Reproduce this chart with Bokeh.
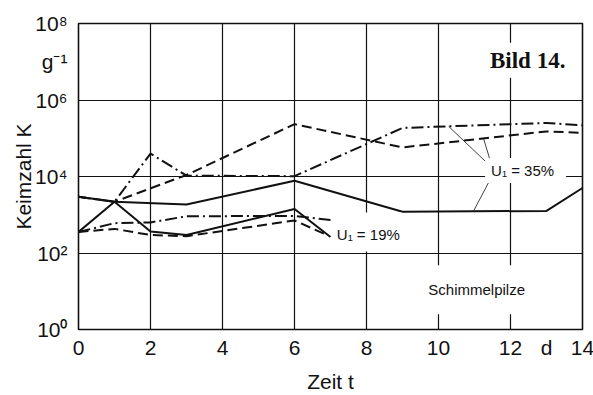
import numpy as np
from bokeh.plotting import figure
from bokeh.models import FixedTicker, Label
from bokeh.embed import file_html
from bokeh.resources import INLINE

# ---- data (time in days, germ count K per g) ----
t35_solid = [0, 1, 3, 6, 9, 13, 14]
k35_solid = [2950, 2190, 1860, 7760, 1200, 1260, 5010]
t35_dash = [0, 1, 3, 6, 9, 13, 14]
k35_dash = [2950, 2190, 10960, 234000, 57500, 151000, 138000]
t35_dashdot = [0, 1, 2, 3, 6, 9, 13, 14]
k35_dashdot = [2950, 2190, 39800, 10500, 10200, 186000, 251000, 219000]

t19_solid = [0, 1, 2, 3, 6, 7]
k19_solid = [355, 2190, 363, 295, 1410, 263]
t19_dash = [0, 1, 2, 3, 6, 6.9]
k19_dash = [355, 427, 295, 275, 708, 295]
t19_dashdot = [0, 1, 2, 3, 6, 7]
k19_dashdot = [355, 603, 631, 912, 933, 724]

x_ticks = [0, 2, 4, 6, 8, 10, 12, 14]
x_unit_tick = 13
x_unit_label = "d"
y_ticks = [1, 100, 10**4, 10**6, 10**8]
y_tick_labels = ["10⁰", "10²", "10⁴", "10⁶", "10⁸"]
y_unit_tick = 10**7
y_unit_label = "g⁻¹"

FONT = "Liberation Sans"
INK = "#111111"

p = figure(width=593, height=395, y_axis_type="log",
           x_range=(0, 14), y_range=(1, 1e8),
           output_backend="svg", toolbar_location=None,
           min_border_left=78, min_border_right=11,
           min_border_top=23, min_border_bottom=61)
p.background_fill_color = "white"
p.border_fill_color = "white"
p.outline_line_color = INK
p.outline_line_width = 1.6

# axes
p.xaxis.ticker = FixedTicker(ticks=x_ticks + [x_unit_tick])
p.xaxis.major_label_overrides = {x_unit_tick: x_unit_label}
p.yaxis.ticker = FixedTicker(ticks=y_ticks + [y_unit_tick])
ov = {k: v for k, v in zip(y_ticks, y_tick_labels)}
ov[y_unit_tick] = y_unit_label
p.yaxis.major_label_overrides = ov

for ax in (p.xaxis, p.yaxis):
    ax.axis_line_color = None
    ax.major_tick_line_color = None
    ax.minor_tick_line_color = None
    ax.major_label_text_font = FONT
    ax.major_label_text_font_size = "21px"
    ax.major_label_text_color = INK
    ax.axis_label_text_font = FONT
    ax.axis_label_text_font_size = "21px"
    ax.axis_label_text_font_style = "normal"
    ax.axis_label_text_color = INK
p.xaxis.axis_label = "Zeit t"
p.yaxis.axis_label = "Keimzahl K"
p.xaxis.major_label_standoff = 0
p.xaxis.axis_label_standoff = 8
p.yaxis.major_label_standoff = 5
p.yaxis.axis_label_standoff = -3

# grid
p.xgrid.ticker = FixedTicker(ticks=x_ticks)
p.ygrid.ticker = FixedTicker(ticks=y_ticks)
for g in (p.xgrid, p.ygrid):
    g.grid_line_color = INK
    g.grid_line_width = 1.2
    g.grid_line_alpha = 1.0
p.ygrid.minor_grid_line_color = None

DASH = "10 5"
DASHDOT = "12 4 2 4"
LW = 2.0

p.line(t35_solid, k35_solid, line_color=INK, line_width=LW)
p.line(t35_dash, k35_dash, line_color=INK, line_width=LW, line_dash=DASH)
p.line(t35_dashdot, k35_dashdot, line_color=INK, line_width=LW, line_dash=DASHDOT)
p.line(t19_solid, k19_solid, line_color=INK, line_width=LW)
p.line(t19_dash, k19_dash, line_color=INK, line_width=LW, line_dash=DASH)
p.line(t19_dashdot, k19_dashdot, line_color=INK, line_width=LW, line_dash=DASHDOT)


def on_curve(ts, ks, t):
    return 10 ** np.interp(t, ts, np.log10(ks))


# leader lines for the U1 = 35% label
lead_from = [(11.5, 10**4.22), (11.5, 10**4.22), (11.53, 10**4.09)]
lead_to_t = [10.28, 11.25, 10.97]
lead_curves = [(t35_dashdot, k35_dashdot), (t35_dash, k35_dash), (t35_solid, k35_solid)]
x0 = [a[0] for a in lead_from]
y0 = [a[1] for a in lead_from]
x1 = lead_to_t
y1 = [on_curve(c[0], c[1], t) for c, t in zip(lead_curves, lead_to_t)]
p.segment(x0=x0, y0=y0, x1=x1, y1=y1, line_color=INK, line_width=0.8)
yd = on_curve(t35_dash, k35_dash, 11.25)
p.segment(x0=[11.13], y0=[yd], x1=[11.37], y1=[yd], line_color=INK, line_width=0.8)

# text labels
LBL = "Liberation Sans"
p.add_layout(Label(x=12.42, y=10**4.16, text="U₁ = 35%", text_align="center",
                   text_baseline="middle", text_font=LBL, text_font_size="15px",
                   text_color=INK, background_fill_color="white",
                   padding=dict(left=6, right=12, top=4, bottom=4)))
p.add_layout(Label(x=8.05, y=10**2.55, text="U₁ = 19%", text_align="center",
                   text_baseline="middle", text_font=LBL, text_font_size="15px",
                   text_color=INK, background_fill_color="white",
                   padding=dict(left=2, right=2, top=14, bottom=8)))
p.add_layout(Label(x=11.06, y=10**1.04, text="Schimmelpilze", text_align="center",
                   text_baseline="middle", text_font=LBL, text_font_size="15px",
                   text_color=INK, background_fill_color="white",
                   padding=dict(left=5, right=5, top=16, bottom=16)))
p.add_layout(Label(x=13.58, y=10**7.04, text="Bild 14.", text_align="right",
                   text_baseline="middle", text_font="Liberation Serif",
                   text_font_size="23px", text_font_style="bold",
                   text_color=INK, background_fill_color="white",
                   padding=dict(left=2, right=2, top=5, bottom=5)))

open("out.html", "w").write(file_html(p, INLINE))
